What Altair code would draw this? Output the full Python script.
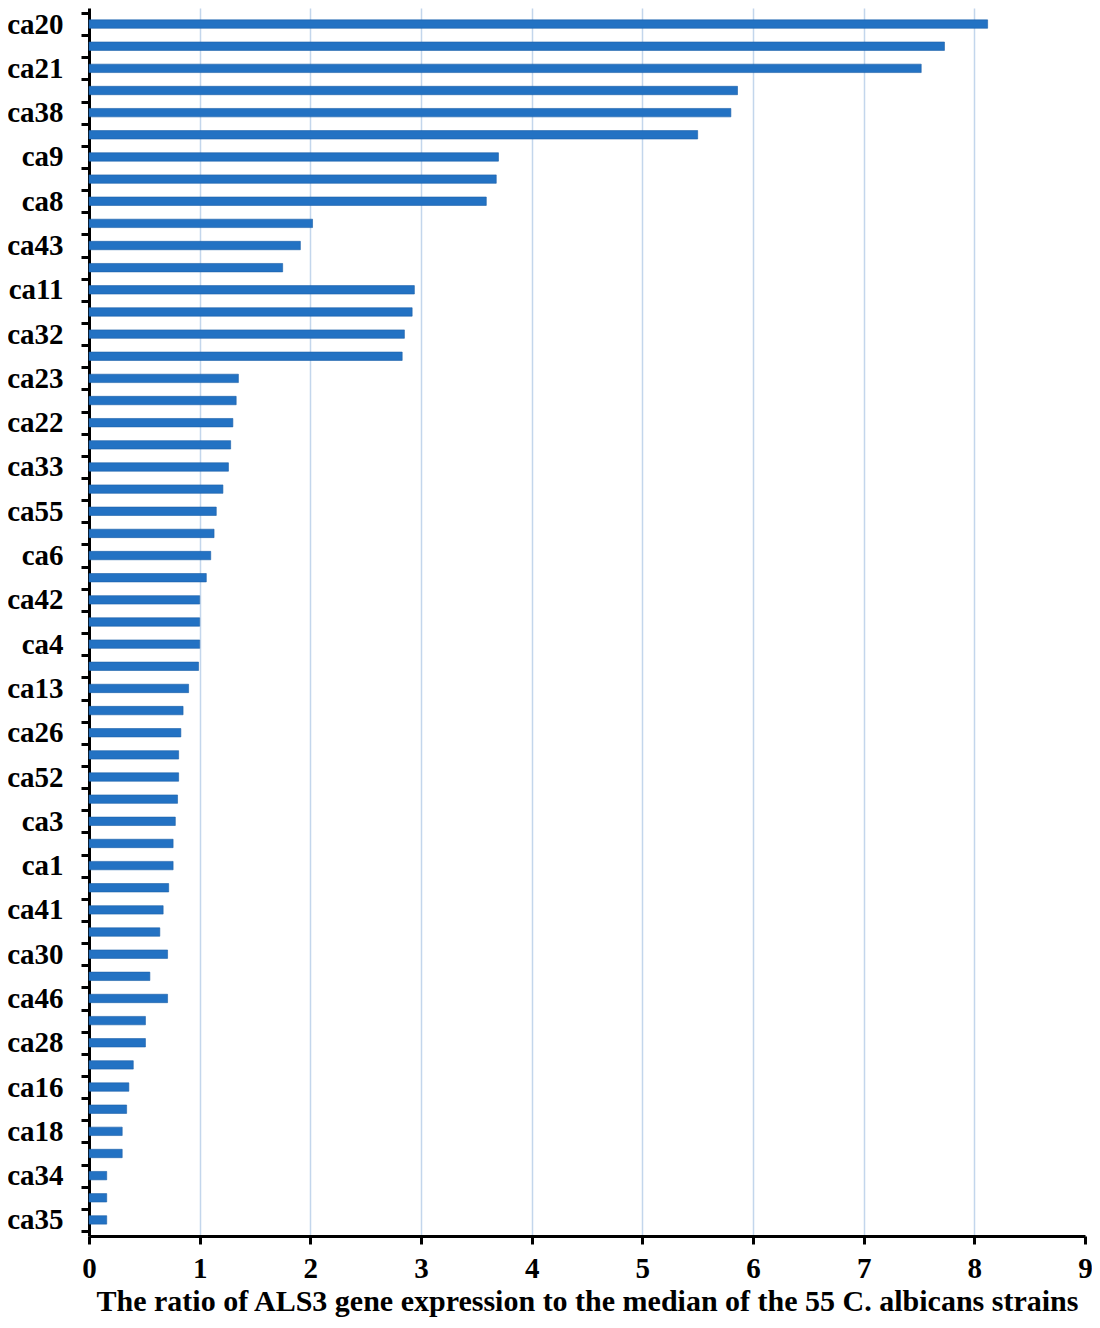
import altair as alt
import pandas as pd

# Strain labels shown on the axis (every other bar is labelled in the original)
shown_labels = ["ca20", "ca21", "ca38", "ca9", "ca8", "ca43", "ca11", "ca32", "ca23",
                "ca22", "ca33", "ca55", "ca6", "ca42", "ca4", "ca13", "ca26", "ca52",
                "ca3", "ca1", "ca41", "ca30", "ca46", "ca28", "ca16", "ca18", "ca34", "ca35"]

# Ratio values, top to bottom (55 strains)
ratios = [8.12, 7.73, 7.52, 5.86, 5.80, 5.50, 3.70, 3.68, 3.59, 2.02,
          1.91, 1.75, 2.94, 2.92, 2.85, 2.83, 1.35, 1.33, 1.30, 1.28,
          1.26, 1.21, 1.15, 1.13, 1.10, 1.06, 1.00, 1.00, 1.00, 0.99,
          0.90, 0.85, 0.83, 0.81, 0.81, 0.80, 0.78, 0.76, 0.76, 0.72,
          0.67, 0.64, 0.71, 0.55, 0.71, 0.51, 0.51, 0.40, 0.36, 0.34,
          0.30, 0.30, 0.16, 0.16, 0.16]

n = len(ratios)
names = []
for i in range(n):
    names.append(shown_labels[i // 2] if i % 2 == 0 else "")

df = pd.DataFrame({"idx": list(range(n)), "ratio": ratios, "name": names})

label_array = "[" + ",".join("'" + s + "'" for s in names) + "]"
label_expr = f"datum.value % 1 == 0 ? {label_array}[datum.value] : ''"

y_values = [i for i in range(0, n, 2)] + [i - 0.5 for i in range(n + 1)]

FONT = "Liberation Serif"

chart = alt.Chart(df).transform_calculate(
    y0="datum.idx - 0.19",
    y1="datum.idx + 0.19",
).mark_bar(color="#2372c3", stroke="#1b5fa8", strokeWidth=0.6, orient="horizontal").encode(
    x=alt.X(
        "ratio:Q",
        scale=alt.Scale(domain=[0, 9], nice=False, zero=True),
        axis=alt.Axis(
            title="The ratio of ALS3 gene expression to the median of the 55 C. albicans strains",
            values=list(range(10)),
            format="d",
            labelFont=FONT, labelFontSize=29, labelFontWeight="bold", labelColor="black",
            labelPadding=10,
            labelFlush=False,
            titleFont=FONT, titleFontSize=30, titleFontWeight="bold", titleColor="black",
            titlePadding=3,
            domainColor="black", domainWidth=3,
            tickColor="black", tickWidth=3, tickSize=8,
            grid=True, gridColor="#c3d6ec", gridWidth=1.5,
            gridOpacity={"condition": {"test": "datum.value == 0 || datum.value == 9", "value": 0}, "value": 1},
        ),
    ),
    x2=alt.datum(0),
    y=alt.Y(
        "y0:Q",
        scale=alt.Scale(domain=[-0.5, n - 0.5], reverse=True, nice=False, zero=False),
        axis=alt.Axis(
            title=None,
            values=y_values,
            labelExpr=label_expr,
            labelFont=FONT, labelFontSize=29, labelFontWeight="bold", labelColor="black",
            labelPadding=18,
            labelOverlap=False,
            labelBound=False,
            domainColor="black", domainWidth=3,
            tickColor="black", tickWidth=3, tickSize=8,
            tickOpacity={"condition": {"test": "datum.value % 1 == 0", "value": 0}, "value": 1},
            grid=False,
        ),
    ),
    y2="y1:Q",
    tooltip=["name:N", "ratio:Q"],
).properties(
    width=996,
    height=1228,
    background="white",
    autosize=alt.AutoSizeParams(type="none"),
    padding={"left": 81, "top": 0, "right": 7, "bottom": 84},
).configure_view(stroke="transparent", strokeWidth=0)

chart.save("out.html", embed_options={"renderer": "svg", "actions": False})
